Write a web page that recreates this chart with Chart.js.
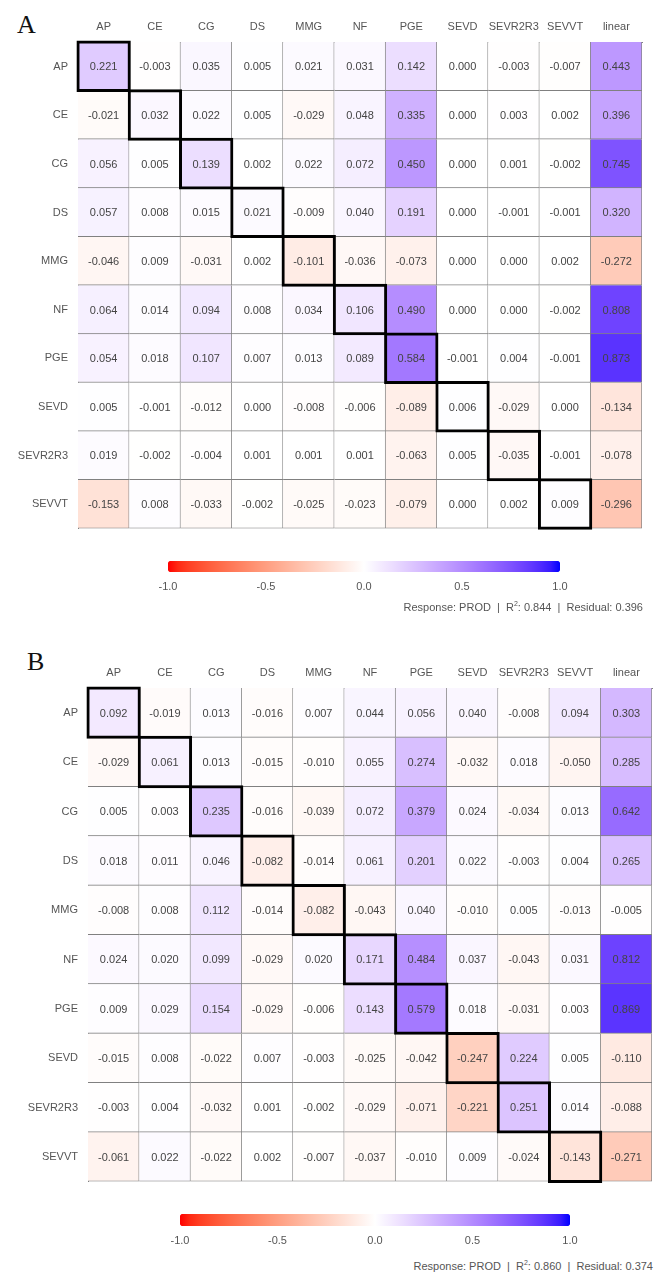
<!DOCTYPE html>
<html>
<head>
<meta charset="utf-8">
<script src="https://cdn.jsdelivr.net/npm/chart.js@4.4.1/dist/chart.umd.min.js"></script>
<style>
  body { margin: 0; background: #fff; width: 658px; height: 1276px; position: relative; overflow: hidden; }
  canvas { position: absolute; left: 0; }
  .tag { position: absolute; font-family: "Liberation Serif", "DejaVu Serif", serif; font-size: 26px; color: #111; line-height: 1; }
  .note { position: absolute; font-family: "Liberation Sans", Arial, sans-serif; font-size: 11px; color: #555; white-space: nowrap; text-align: right; }
  .note sup { font-size: 7px; }
</style>
</head>
<body>
<div class="tag" style="left:17px; top:12px;">A</div>
<canvas id="heatA" width="658" height="545" style="top:0px"></canvas>
<canvas id="barA" width="658" height="40" style="top:561px"></canvas>
<div class="note" id="noteA" style="right:15px; top:600px;"></div>

<div class="tag" style="left:27px; top:649px;">B</div>
<canvas id="heatB" width="658" height="558" style="top:640px"></canvas>
<canvas id="barB" width="658" height="40" style="top:1214px"></canvas>
<div class="note" id="noteB" style="right:5px; top:1259px;"></div>

<script>
const cols = ['AP', 'CE', 'CG', 'DS', 'MMG', 'NF', 'PGE', 'SEVD', 'SEVR2R3', 'SEVVT', 'linear']
const rows = ['AP', 'CE', 'CG', 'DS', 'MMG', 'NF', 'PGE', 'SEVD', 'SEVR2R3', 'SEVVT']
const scale_ticks = [-1.0, -0.5, 0.0, 0.5, 1.0]

// panel A, one array per row
const a_AP      = [0.221, -0.003, 0.035, 0.005, 0.021, 0.031, 0.142, 0.000, -0.003, -0.007, 0.443]
const a_CE      = [-0.021, 0.032, 0.022, 0.005, -0.029, 0.048, 0.335, 0.000, 0.003, 0.002, 0.396]
const a_CG      = [0.056, 0.005, 0.139, 0.002, 0.022, 0.072, 0.450, 0.000, 0.001, -0.002, 0.745]
const a_DS      = [0.057, 0.008, 0.015, 0.021, -0.009, 0.040, 0.191, 0.000, -0.001, -0.001, 0.320]
const a_MMG     = [-0.046, 0.009, -0.031, 0.002, -0.101, -0.036, -0.073, 0.000, 0.000, 0.002, -0.272]
const a_NF      = [0.064, 0.014, 0.094, 0.008, 0.034, 0.106, 0.490, 0.000, 0.000, -0.002, 0.808]
const a_PGE     = [0.054, 0.018, 0.107, 0.007, 0.013, 0.089, 0.584, -0.001, 0.004, -0.001, 0.873]
const a_SEVD    = [0.005, -0.001, -0.012, 0.000, -0.008, -0.006, -0.089, 0.006, -0.029, 0.000, -0.134]
const a_SEVR2R3 = [0.019, -0.002, -0.004, 0.001, 0.001, 0.001, -0.063, 0.005, -0.035, -0.001, -0.078]
const a_SEVVT   = [-0.153, 0.008, -0.033, -0.002, -0.025, -0.023, -0.079, 0.000, 0.002, 0.009, -0.296]

// panel B, one array per row
const b_AP      = [0.092, -0.019, 0.013, -0.016, 0.007, 0.044, 0.056, 0.040, -0.008, 0.094, 0.303]
const b_CE      = [-0.029, 0.061, 0.013, -0.015, -0.010, 0.055, 0.274, -0.032, 0.018, -0.050, 0.285]
const b_CG      = [0.005, 0.003, 0.235, -0.016, -0.039, 0.072, 0.379, 0.024, -0.034, 0.013, 0.642]
const b_DS      = [0.018, 0.011, 0.046, -0.082, -0.014, 0.061, 0.201, 0.022, -0.003, 0.004, 0.265]
const b_MMG     = [-0.008, 0.008, 0.112, -0.014, -0.082, -0.043, 0.040, -0.010, 0.005, -0.013, -0.005]
const b_NF      = [0.024, 0.020, 0.099, -0.029, 0.020, 0.171, 0.484, 0.037, -0.043, 0.031, 0.812]
const b_PGE     = [0.009, 0.029, 0.154, -0.029, -0.006, 0.143, 0.579, 0.018, -0.031, 0.003, 0.869]
const b_SEVD    = [-0.015, 0.008, -0.022, 0.007, -0.003, -0.025, -0.042, -0.247, 0.224, 0.005, -0.110]
const b_SEVR2R3 = [-0.003, 0.004, -0.032, 0.001, -0.002, -0.029, -0.071, -0.221, 0.251, 0.014, -0.088]
const b_SEVVT   = [-0.061, 0.022, -0.022, 0.002, -0.007, -0.037, -0.010, 0.009, -0.024, -0.143, -0.271]

const values_a = [a_AP, a_CE, a_CG, a_DS, a_MMG, a_NF, a_PGE, a_SEVD, a_SEVR2R3, a_SEVVT]
const values_b = [b_AP, b_CE, b_CG, b_DS, b_MMG, b_NF, b_PGE, b_SEVD, b_SEVR2R3, b_SEVVT]

const fit_a = { response: 'PROD', r2: '0.844', residual: '0.396' }
const fit_b = { response: 'PROD', r2: '0.860', residual: '0.374' }

Chart.defaults.font.family = '"Liberation Sans", Arial, sans-serif'
Chart.defaults.font.size = 11

// white -> red / white -> blue, mixed in Lab space
function to_lab(rgb) {
    const lin = rgb.map(c => { c /= 255; return c <= 0.04045 ? c / 12.92 : Math.pow((c + 0.055) / 1.055, 2.4) })
    const X = (0.4124 * lin[0] + 0.3576 * lin[1] + 0.1805 * lin[2]) / 0.95047
    const Y = 0.2126 * lin[0] + 0.7152 * lin[1] + 0.0722 * lin[2]
    const Z = (0.0193 * lin[0] + 0.1192 * lin[1] + 0.9505 * lin[2]) / 1.08883
    const f = t => t > 0.008856 ? Math.cbrt(t) : 7.787 * t + 16 / 116
    return [116 * f(Y) - 16, 500 * (f(X) - f(Y)), 200 * (f(Y) - f(Z))]
}

function from_lab(lab) {
    const fy = (lab[0] + 16) / 116
    const fx = fy + lab[1] / 500
    const fz = fy - lab[2] / 200
    const inv = t => t * t * t > 0.008856 ? t * t * t : (t - 16 / 116) / 7.787
    const X = inv(fx) * 0.95047, Y = inv(fy), Z = inv(fz) * 1.08883
    const lin = [
        3.2406 * X - 1.5372 * Y - 0.4986 * Z,
        -0.9689 * X + 1.8758 * Y + 0.0415 * Z,
        0.0557 * X - 0.2040 * Y + 1.0570 * Z
    ]
    const rgb = lin.map(c => {
        c = c <= 0.0031308 ? 12.92 * c : 1.055 * Math.pow(c, 1 / 2.4) - 0.055
        return Math.round(Math.min(1, Math.max(0, c)) * 255)
    })
    return `rgb(${rgb[0]},${rgb[1]},${rgb[2]})`
}

const lab_white = to_lab([255, 255, 255])
const lab_red = to_lab([255, 0, 0])
const lab_blue = to_lab([0, 0, 255])

function color_for(v) {
    const t = Math.min(1, Math.abs(v))
    const end = v < 0 ? lab_red : lab_blue
    return from_lab(lab_white.map((w, k) => w + (end[k] - w) * t))
}

const cell_text = {
    id: 'cell_text',
    afterDatasetsDraw(chart, args, opts) {
        const ctx = chart.ctx
        ctx.save()
        ctx.fillStyle = '#444'
        ctx.font = '11px "Liberation Sans", Arial, sans-serif'
        ctx.textAlign = 'center'
        ctx.textBaseline = 'middle'
        chart.data.datasets.forEach((ds, i) => {
            if (ds.row === undefined) return
            chart.getDatasetMeta(i).data.forEach((el, j) => {
                ctx.fillText(opts.values[ds.row][j].toFixed(3), el.x, (el.y + el.base) / 2 + 1)
            })
        })
        ctx.restore()
    }
}

function draw_heatmap(canvas_id, values, box) {
    const row_h = (box.height - box.top - box.bottom) / rows.length

    const datasets = rows.map((row, i) => ({
        label: row,
        row: i,
        data: cols.map(() => [i, i + 1]),
        backgroundColor: values[i].map(color_for),
        borderColor: '#808080',
        borderWidth: { top: 0, left: 0, right: 1, bottom: 1 },
        borderSkipped: false,
        grouped: false,
        barPercentage: 1,
        categoryPercentage: 1
    }))

    // thick black frame on the diagonal
    datasets.unshift({
        label: 'diag',
        data: rows.map((row, i) => ({ x: cols[i], y: [i - 0.03, i + 1.03] })),
        backgroundColor: 'rgba(0,0,0,0)',
        borderColor: '#000',
        borderWidth: 3,
        borderSkipped: false,
        grouped: false,
        barPercentage: 1.06,
        categoryPercentage: 1,
        clip: false
    })

    new Chart(document.getElementById(canvas_id), {
        type: 'bar',
        data: { labels: cols, datasets: datasets },
        plugins: [cell_text],
        options: {
            responsive: false,
            animation: false,
            events: [],
            layout: { padding: { left: 0, top: 0, right: box.right, bottom: box.bottom } },
            plugins: {
                legend: { display: false },
                tooltip: { enabled: false },
                cell_text: { values: values }
            },
            scales: {
                x: {
                    type: 'category',
                    position: 'top',
                    offset: true,
                    grid: { display: false, drawTicks: false },
                    border: { display: true, color: '#808080' },
                    ticks: { color: '#555', padding: 8, maxRotation: 0, autoSkip: false },
                    afterFit: s => { s.height = box.top }
                },
                y: {
                    type: 'linear',
                    min: 0,
                    max: rows.length,
                    reverse: true,
                    grid: { display: false, drawTicks: false },
                    border: { display: true, color: '#808080' },
                    ticks: {
                        stepSize: 1,
                        autoSkip: false,
                        color: '#555',
                        padding: 10,
                        labelOffset: row_h / 2,
                        callback: v => rows[v] ?? ''
                    },
                    afterFit: s => { s.width = box.left }
                }
            }
        }
    })
}

function draw_colorbar(canvas_id, left, right, bar_h) {
    new Chart(document.getElementById(canvas_id), {
        type: 'bar',
        data: {
            labels: ['scale'],
            datasets: [{
                data: [[scale_ticks[0], scale_ticks[scale_ticks.length - 1]]],
                backgroundColor: ctx => {
                    const chart = ctx.chart
                    const xs = chart.scales.x
                    if (!xs || !chart.chartArea) return '#fff'
                    const x0 = xs.getPixelForValue(-1)
                    const x1 = xs.getPixelForValue(1)
                    const g = chart.ctx.createLinearGradient(x0, 0, x1, 0)
                    for (let k = 0; k <= 40; k++) g.addColorStop(k / 40, color_for(-1 + k / 20))
                    return g
                },
                borderRadius: 4,
                borderSkipped: false,
                barPercentage: 1,
                categoryPercentage: 1
            }]
        },
        options: {
            indexAxis: 'y',
            responsive: false,
            animation: false,
            events: [],
            layout: { padding: { left: left, right: right, top: 0, bottom: 0 } },
            plugins: { legend: { display: false }, tooltip: { enabled: false } },
            scales: {
                x: {
                    type: 'linear',
                    min: -1,
                    max: 1,
                    grid: { display: false, drawTicks: false },
                    border: { display: false },
                    afterBuildTicks: axis => { axis.ticks = scale_ticks.map(v => ({ value: v })) },
                    ticks: { color: '#555', padding: 8, callback: v => Number(v).toFixed(1) },
                    afterFit: s => { s.height = 40 - bar_h }
                },
                y: { type: 'category', display: false }
            }
        }
    })
}

function write_note(el_id, fit) {
    document.getElementById(el_id).innerHTML =
        `Response: ${fit.response} &nbsp;|&nbsp; R<sup>2</sup>: ${fit.r2} &nbsp;|&nbsp; Residual: ${fit.residual}`
}

draw_heatmap('heatA', values_a, { left: 78, top: 42, right: 16, bottom: 11, height: 545 })
draw_colorbar('barA', 168, 98, 11)
write_note('noteA', fit_a)

draw_heatmap('heatB', values_b, { left: 88, top: 48, right: 6, bottom: 10, height: 558 })
draw_colorbar('barB', 180, 88, 12)
write_note('noteB', fit_b)
</script>
</body>
</html>
